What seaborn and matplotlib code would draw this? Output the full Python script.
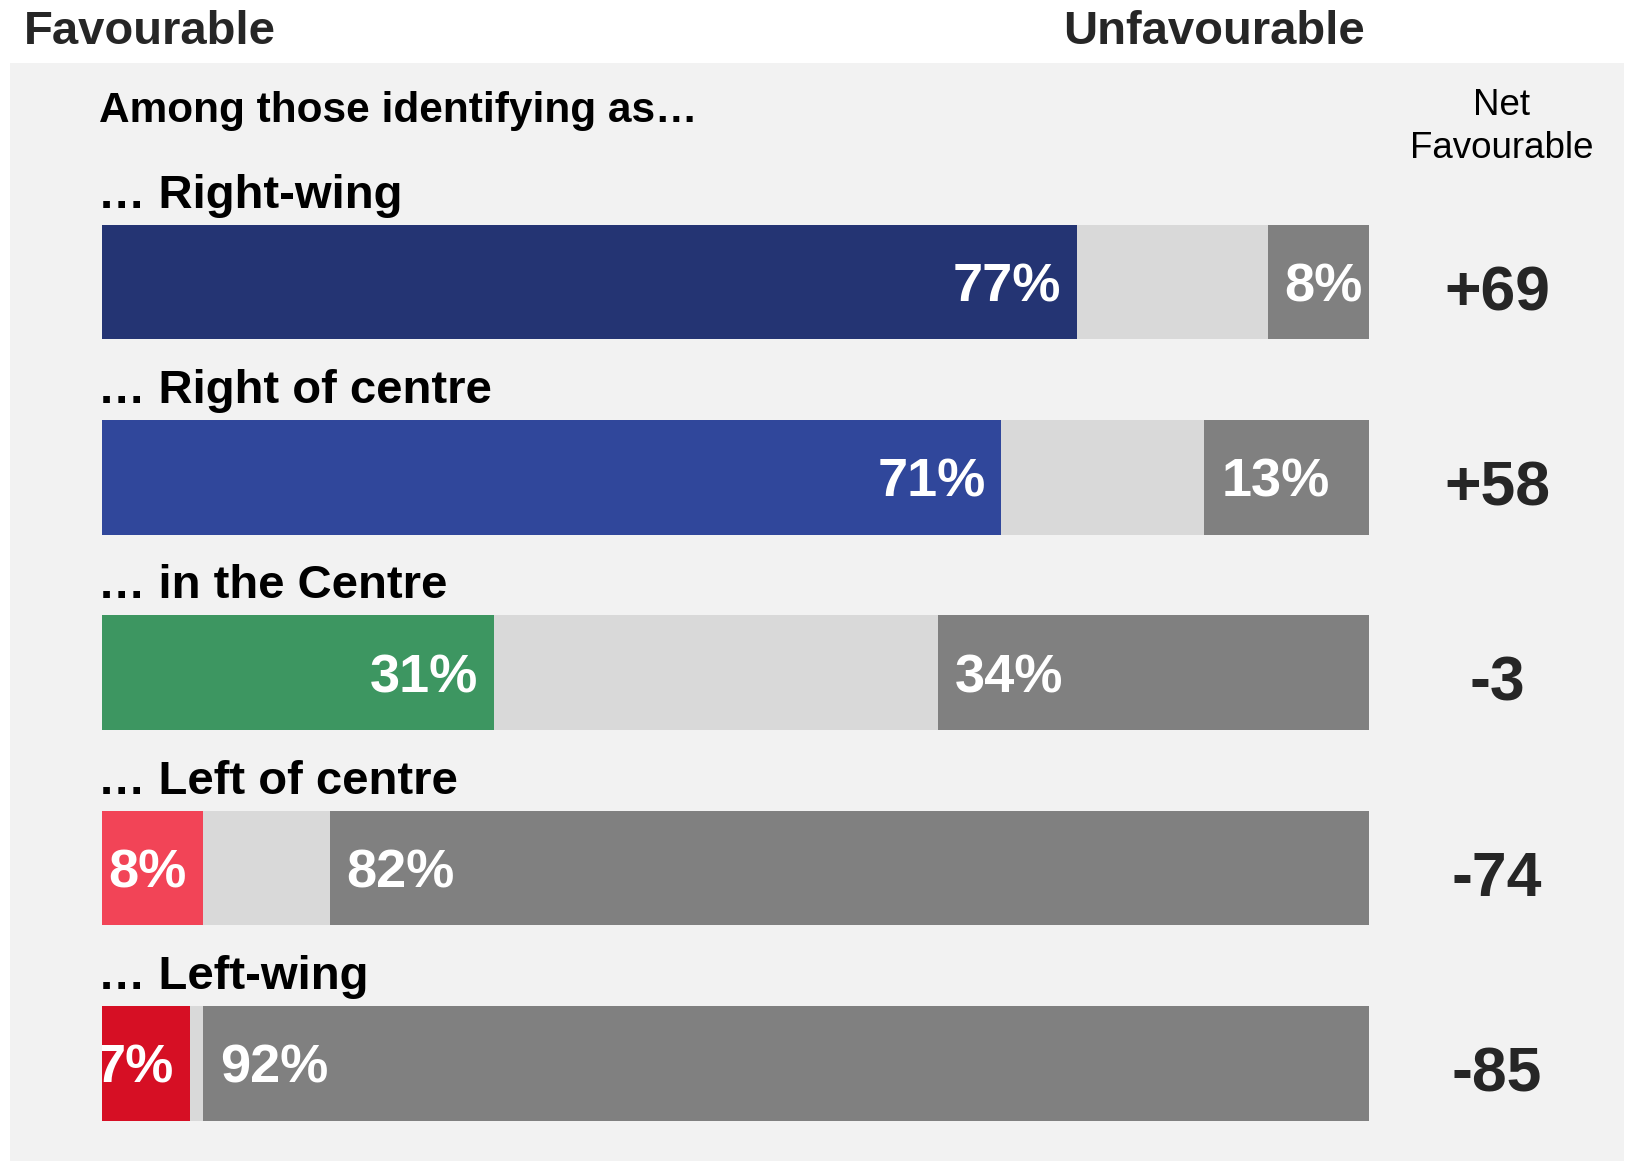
import matplotlib
matplotlib.use('Agg')
import matplotlib.pyplot as plt
from matplotlib.patches import Rectangle
import seaborn as sns
import pandas as pd

# data
groups = ['… Right-wing', '… Right of centre', '… in the Centre', '… Left of centre', '… Left-wing']
favourable = [77, 71, 31, 8, 7]
unfavourable = [8, 13, 34, 82, 92]
group_colors = ['#243473', '#30479b', '#3d9661', '#f24457', '#d60f24']

neutral_col = '#d9d9d9'
unfav_col = '#808080'
panel_col = '#f2f2f2'
text_dark = '#262626'

sns.set_style('white')
plt.rcParams['font.family'] = ['Liberation Sans', 'DejaVu Sans']

df = pd.DataFrame({'group': groups, 'fav': favourable, 'unfav': unfavourable})
df['neutral'] = 100 - df['fav'] - df['unfav']
df['fav_neutral'] = df['fav'] + df['neutral']
df['total'] = 100
df['net'] = df['fav'] - df['unfav']

W, H = 1627, 1161
fig = plt.figure(figsize=(W / 100, H / 100), dpi=100)
fig.patch.set_facecolor('white')


def fx(x):
    return x / W


def fy(y):
    return 1 - y / H


# grey panel behind the chart
fig.add_artist(Rectangle((fx(10), 0), fx(1624) - fx(10), fy(63), transform=fig.transFigure,
                         facecolor=panel_col, edgecolor='none', zorder=0))

row_px = 195.25
top_px = 184.4
ax = fig.add_axes([fx(101.5), 0, 1267.5 / W, (H - top_px) / H])
ax.patch.set_alpha(0)

bar_w = 0.586
# stacked bars: draw the full width first, then overlay the shorter parts
sns.barplot(data=df, y='group', x='total', color=unfav_col, width=bar_w, orient='h',
            errorbar=None, linewidth=0, saturation=1, ax=ax)
sns.barplot(data=df, y='group', x='fav_neutral', color=neutral_col, width=bar_w, orient='h',
            errorbar=None, linewidth=0, saturation=1, ax=ax)
sns.barplot(data=df, y='group', x='fav', hue='group', palette=group_colors, width=bar_w,
            orient='h', errorbar=None, linewidth=0, saturation=1, legend=False, ax=ax)

ax.set_xlim(0, 100)
ax.set_ylim(4.5, -0.5)
ax.set_axis_off()

pct_size = 39
pt = 0.72  # points per pixel at dpi 100
for i, row in df.iterrows():
    ax.annotate(f"{row['fav']}%", xy=(row['fav'], i), xytext=(-16 * pt, -19.5 * pt),
                textcoords='offset points', ha='right', va='baseline', color='white',
                fontsize=pct_size, fontweight='bold', clip_on=True)
    ax.annotate(f"{row['unfav']}%", xy=(100 - row['unfav'], i), xytext=(17 * pt, -19.5 * pt),
                textcoords='offset points', ha='left', va='baseline', color='white',
                fontsize=pct_size, fontweight='bold', clip_on=True)
    # category label above each bar
    ax.annotate(row['group'], xy=(0, i - bar_w / 2), xytext=(-3 * pt, 17 * pt),
                textcoords='offset points', ha='left', va='baseline', color='black',
                fontsize=34, fontweight='bold', annotation_clip=False)
    # net favourable column
    ax.annotate(f"{row['net']:+d}", xy=((1497 - 101.5) / 12.675, i), xytext=(0, -28 * pt),
                textcoords='offset points', ha='center', va='baseline', color=text_dark,
                fontsize=45, fontweight='bold', annotation_clip=False)

fig.text(fx(24), fy(44), 'Favourable', ha='left', va='baseline', fontsize=34,
         fontweight='bold', color=text_dark)
fig.text(fx(1365), fy(44), 'Unfavourable', ha='right', va='baseline', fontsize=34,
         fontweight='bold', color=text_dark)
fig.text(fx(99), fy(122), 'Among those identifying as…', ha='left', va='baseline',
         fontsize=30.5, fontweight='bold', color='black')
fig.text(fx(1502), fy(115), 'Net', ha='center', va='baseline', fontsize=26.5, color='black')
fig.text(fx(1502), fy(158), 'Favourable', ha='center', va='baseline', fontsize=26.5,
         color='black')

fig.savefig('out.png', dpi=100, facecolor='white')
